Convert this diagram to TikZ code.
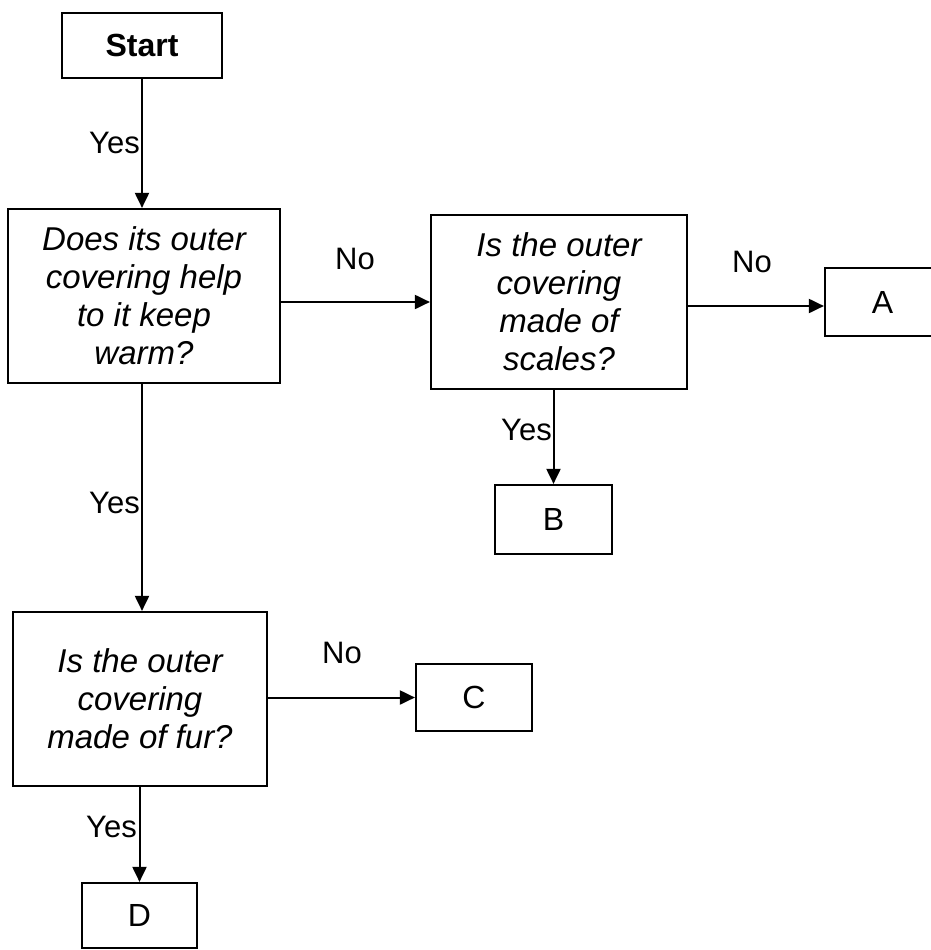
\documentclass[tikz,border=0pt]{standalone}
\usepackage{fontspec}
\setmainfont{Liberation Sans}
\usetikzlibrary{arrows.meta}
\begin{document}
\begin{tikzpicture}[x=1pt,y=-1pt,
  box/.style={draw,line width=2.2pt,inner sep=0pt,align=center},
  qbox/.style={box,font=\fontsize{33}{38}\selectfont\itshape},
  lbox/.style={box,font=\fontsize{32}{38}\selectfont},
  lbl/.style={font=\fontsize{31}{36}\selectfont,inner sep=1pt},
  conn/.style={line width=2pt,-{Triangle[length=15pt,width=14pt]}}]
\useasboundingbox (0,0) rectangle (931,950);
\node[lbox,font=\fontsize{32}{38}\selectfont\bfseries,minimum width=160pt,minimum height=65pt] (start) at (142,45.5) {Start};
\node[qbox,minimum width=272pt,minimum height=174pt] (q1) at (144,296) {Does its outer\\covering help\\to it keep\\warm?};
\node[qbox,minimum width=256pt,minimum height=174pt] (q2) at (559,302) {Is the outer\\covering\\made of\\scales?};
\node[lbox,minimum width=115pt,minimum height=68pt] (a) at (882.5,302) {A};
\node[lbox,minimum width=117pt,minimum height=69pt] (b) at (553.5,519.5) {B};
\node[qbox,minimum width=254pt,minimum height=174pt] (q3) at (140,699) {Is the outer\\covering\\made of fur?};
\node[lbox,minimum width=116pt,minimum height=67pt] (c) at (474,697.5) {C};
\node[lbox,minimum width=115pt,minimum height=65pt] (d) at (139.5,915.5) {D};
\coordinate (t3) at (q1.south -| start.south);
\draw[conn] (start.south) -- (start.south |- q1.north);
\draw[conn] (q1.east |- q2.west) -- (q2.west);
\draw[conn] ([yshift=-4pt]q2.east) -- ([yshift=-4pt]a.west);
\draw[conn] (q2.south -| b.north) -- (b.north);
\draw[conn] (t3) -- (t3 |- q3.north);
\draw[conn] (q3.east |- c.west) -- (c.west);
\draw[conn] (q3.south -| d.north) -- (d.north);
\node[lbl,anchor=east] (y1) at (141,143) {Yes};
\node[lbl] (n1) at (355,259) {No};
\node[lbl] (n2) at (752,262) {No};
\node[lbl,anchor=east] (y2) at (553,430) {Yes};
\node[lbl,anchor=east] (y3) at (141,503) {Yes};
\node[lbl] (n3) at (342,653) {No};
\node[lbl,anchor=east] (y4) at (138,827) {Yes};
\end{tikzpicture}
\end{document}
